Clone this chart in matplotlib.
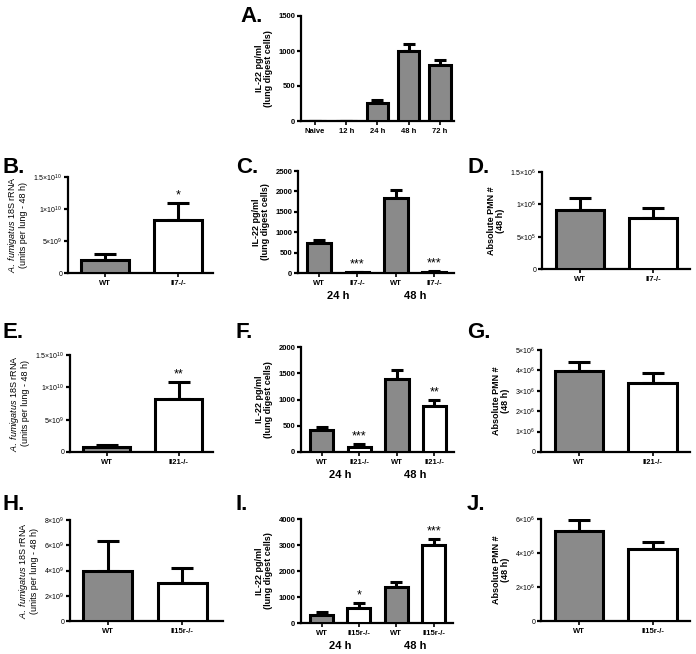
import matplotlib
matplotlib.use("Agg")
import matplotlib.pyplot as plt
import numpy as np

plt.rcParams['font.family'] = ['Liberation Sans', 'DejaVu Sans']
plt.rcParams['mathtext.fontset'] = 'custom'
plt.rcParams['mathtext.rm'] = 'Liberation Sans'
plt.rcParams['mathtext.it'] = 'Liberation Sans:italic'
plt.rcParams['mathtext.bf'] = 'Liberation Sans:bold'

W, H = 696, 654
GREY = '#8a8a8a'

# ---------------- data ----------------
A_labels = ['Naive', '12 h', '24 h', '48 h', '72 h']
A_mean = [0, 0, 255, 1000, 800]
A_err = [0, 0, 40, 95, 75]
A_yticks = [0, 500, 1000, 1500]

B_labels = ['WT', 'Il7-/-']
B_mean = [2.1e9, 8.3e9]
B_err = [0.8e9, 2.6e9]
B_stars = ['', '*']
B_yticks = [0, 5e9, 1e10, 1.5e10]

C_labels = ['WT', 'Il7-/-', 'WT', 'Il7-/-']
C_mean = [740, 20, 1850, 30]
C_err = [65, 15, 180, 20]
C_stars = ['', '***', '', '***']
C_yticks = [0, 500, 1000, 1500, 2000, 2500]

D_labels = ['WT', 'Il7-/-']
D_mean = [9.2e5, 7.9e5]
D_err = [1.8e5, 1.5e5]
D_yticks = [0, 5e5, 1e6, 1.5e6]

E_labels = ['WT', 'Il21-/-']
E_mean = [7e8, 8.2e9]
E_err = [4e8, 2.6e9]
E_stars = ['', '**']
E_yticks = [0, 5e9, 1e10, 1.5e10]

F_labels = ['WT', 'Il21-/-', 'WT', 'Il21-/-']
F_mean = [410, 95, 1400, 870]
F_err = [60, 60, 170, 125]
F_stars = ['', '***', '', '**']
F_yticks = [0, 500, 1000, 1500, 2000]

G_labels = ['WT', 'Il21-/-']
G_mean = [3.95e6, 3.36e6]
G_err = [4.4e5, 5.2e5]
G_yticks = [0, 1e6, 2e6, 3e6, 4e6, 5e6]

H_labels = ['WT', 'Il15r-/-']
H_mean = [3.95e9, 3.03e9]
H_err = [2.4e9, 1.17e9]
H_yticks = [0, 2e9, 4e9, 6e9, 8e9]

I_labels = ['WT', 'Il15r-/-', 'WT', 'Il15r-/-']
I_mean = [320, 590, 1400, 2990]
I_err = [100, 190, 165, 250]
I_stars = ['', '*', '', '***']
I_yticks = [0, 1000, 2000, 3000, 4000]

J_labels = ['WT', 'Il15r-/-']
J_mean = [5.3e6, 4.22e6]
J_err = [6.3e5, 4.3e5]
J_yticks = [0, 2e6, 4e6, 6e6]

group_labels = ['24 h', '48 h']

IL22_LABEL = 'IL-22 pg/ml\n(lung digest cells)'
FUMI_LABEL = '$\\it{A.\\ fumigatus}$ 18S rRNA\n(units per lung - 48 h)'
PMN_LABEL = 'Absolute PMN #\n(48 h)'

# ---------------- helpers ----------------
fig = plt.figure(figsize=(W / 100, H / 100), dpi=100)


def add_ax(l, r, t, b):
    return fig.add_axes([l / W, 1 - b / H, (r - l) / W, (b - t) / H])


def sci(v):
    if v == 0:
        return '0'
    e = int(np.floor(np.log10(v) + 1e-9))
    m = v / 10 ** e
    ms = ('%g' % m)
    return '%s$\\times$10$^{%d}$' % (ms, e)


def style(ax, yticks, sci_labels, xlim):
    for s in ['top', 'right']:
        ax.spines[s].set_visible(False)
    for s in ['left', 'bottom']:
        ax.spines[s].set_linewidth(1.6)
    ax.set_ylim(0, yticks[-1])
    ax.set_xlim(*xlim)
    ax.set_yticks(yticks)
    if sci_labels:
        ax.set_yticklabels([sci(v) for v in yticks], fontsize=5)
    else:
        ax.set_yticklabels([str(int(v)) for v in yticks], fontsize=5.5,
                           fontweight='bold')
    ax.tick_params(axis='y', length=3, width=1.6, pad=1)
    ax.tick_params(axis='x', length=3, width=1.2, pad=2)


def bars(ax, labels, mean, err, colors, width, capsize, stars=None,
         star_size=9):
    x = np.arange(len(labels))
    ax.bar(x, mean, width=width, color=colors, edgecolor='black',
           linewidth=2.2, zorder=3)
    lo = np.zeros(len(mean))
    ax.errorbar(x, mean, yerr=[lo, err], fmt='none', ecolor='black',
                elinewidth=2.2, capsize=capsize, capthick=2.2, zorder=2)
    ax.set_xticks(x)
    ax.set_xticklabels(labels, fontsize=5.5, fontweight='bold')
    if stars:
        for xi, m, e, s in zip(x, mean, err, stars):
            if s:
                ax.annotate(s, (xi, m + e), xytext=(0, 1),
                            textcoords='offset points', ha='center',
                            va='bottom', fontsize=star_size)
    return x


def letter(x, y, s):
    fig.text(x / W, 1 - y / H, s, fontsize=16, fontweight='bold',
             ha='left', va='top')


def ylab(ax, s, bold=True, pad=4):
    ax.set_ylabel(s, fontsize=6.5, fontweight='bold' if bold else 'normal',
                  labelpad=pad, linespacing=1.0)


def groups(ax, y_off=-16.5):
    for gx, g in zip([0.5, 2.5], group_labels):
        ax.annotate(g, (gx, 0), xytext=(0, y_off), textcoords='offset points',
                    ha='center', va='center', fontsize=8, fontweight='bold',
                    annotation_clip=False)


two_col = [GREY, 'white']
four_col = [GREY, 'white', GREY, 'white']

# ---------------- Panel A ----------------
axA = add_ax(301, 454, 16, 121)
bars(axA, A_labels, A_mean, A_err, GREY, 0.68, 4)
style(axA, A_yticks, False, (-0.45, 4.45))
axA.set_xticklabels(A_labels, fontsize=5.5, fontweight='bold')
ylab(axA, IL22_LABEL)
letter(240, 6, 'A.')

# ---------------- Row 2 ----------------
axB = add_ax(68, 213, 177, 273)
bars(axB, B_labels, B_mean, B_err, two_col, 0.66, 8, B_stars)
style(axB, B_yticks, True, (-0.51, 1.48))
axB.set_xticklabels(B_labels, fontsize=5.5, fontweight='bold')
ylab(axB, FUMI_LABEL, bold=False)
letter(3, 157, 'B.')

axC = add_ax(298, 454, 171, 273)
bars(axC, C_labels, C_mean, C_err, four_col, 0.62, 4.5, C_stars)
style(axC, C_yticks, False, (-0.55, 3.52))
axC.set_xticklabels(C_labels, fontsize=5.5, fontweight='bold')
ylab(axC, IL22_LABEL)
groups(axC)
letter(236, 157, 'C.')

axD = add_ax(542, 690, 172, 269)
bars(axD, D_labels, D_mean, D_err, two_col, 0.66, 8)
style(axD, D_yticks, True, (-0.52, 1.51))
axD.set_xticklabels(D_labels, fontsize=5.5, fontweight='bold')
ylab(axD, PMN_LABEL)
letter(467, 157, 'D.')

# ---------------- Row 3 ----------------
axE = add_ax(70, 213, 355, 452)
bars(axE, E_labels, E_mean, E_err, two_col, 0.66, 8, E_stars)
style(axE, E_yticks, True, (-0.51, 1.48))
axE.set_xticklabels(E_labels, fontsize=5.5, fontweight='bold')
ylab(axE, FUMI_LABEL, bold=False)
letter(3, 322, 'E.')

axF = add_ax(301, 454, 347, 452)
bars(axF, F_labels, F_mean, F_err, four_col, 0.62, 4.5, F_stars)
style(axF, F_yticks, False, (-0.55, 3.52))
axF.set_xticklabels(F_labels, fontsize=5.5, fontweight='bold')
ylab(axF, IL22_LABEL)
groups(axF)
letter(236, 322, 'F.')

axG = add_ax(541, 690, 350, 452)
bars(axG, G_labels, G_mean, G_err, two_col, 0.66, 8)
style(axG, G_yticks, True, (-0.52, 1.51))
axG.set_xticklabels(G_labels, fontsize=5.5, fontweight='bold')
ylab(axG, PMN_LABEL)
letter(467, 322, 'G.')

# ---------------- Row 4 ----------------
axH = add_ax(70, 223, 520, 621)
bars(axH, H_labels, H_mean, H_err, two_col, 0.66, 8)
style(axH, H_yticks, True, (-0.51, 1.55))
axH.set_xticklabels(H_labels, fontsize=5.5, fontweight='bold')
ylab(axH, FUMI_LABEL, bold=False)
letter(3, 494, 'H.')

axI = add_ax(301, 453, 519, 623)
bars(axI, I_labels, I_mean, I_err, four_col, 0.62, 4.5, I_stars)
style(axI, I_yticks, False, (-0.55, 3.52))
axI.set_xticklabels(I_labels, fontsize=5.5, fontweight='bold')
ylab(axI, IL22_LABEL)
groups(axI, y_off=-16.5)
letter(236, 494, 'I.')

axJ = add_ax(541, 690, 519, 621)
bars(axJ, J_labels, J_mean, J_err, two_col, 0.66, 8)
style(axJ, J_yticks, True, (-0.52, 1.51))
axJ.set_xticklabels(J_labels, fontsize=5.5, fontweight='bold')
ylab(axJ, PMN_LABEL)
letter(467, 494, 'J.')

fig.savefig('out.png', dpi=100)
